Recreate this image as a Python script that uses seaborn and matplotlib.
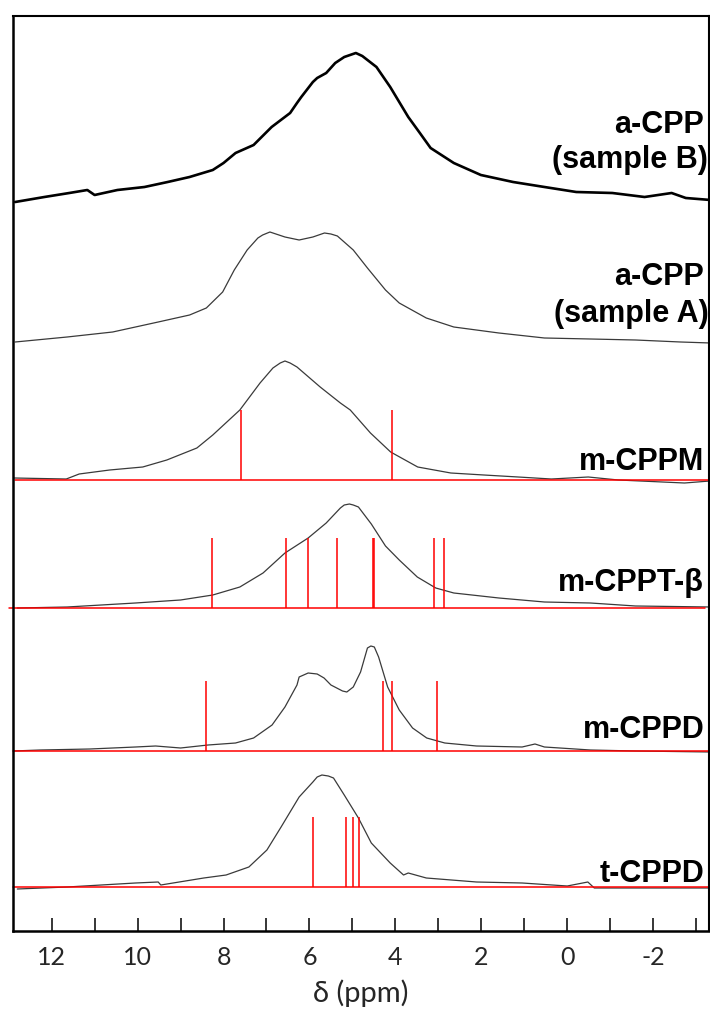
import numpy as np
import pandas as pd
import matplotlib
matplotlib.use("Agg")
import matplotlib.pyplot as plt
from matplotlib.ticker import MultipleLocator
import seaborn as sns

# ------------------------------------------------------------------
# spectra: chemical shift (ppm) and intensity (a.u.)
# ------------------------------------------------------------------
ppm_b = [12.85, 12.17, 11.59, 11.17, 11.00, 10.47, 9.84, 9.30, 8.79, 8.25, 8.00, 7.72,
         7.30, 6.88, 6.45, 6.29, 6.19, 5.92, 5.82, 5.61, 5.40, 5.19, 4.92, 4.77, 4.44,
         4.12, 3.91, 3.70, 3.43, 3.18, 2.64, 2.01,
         1.26, 0.53, -0.21, -1.05, -1.80, -2.43, -2.76, -3.34]
int_b = [-1, 4, 8, 11, 6, 11, 14, 19, 24, 31, 38, 48,
         56, 74, 88, 98, 104, 119, 123, 128, 138, 144, 148, 145, 134,
         114, 99, 84, 68, 53, 38, 26,
         19, 14, 9, 8, 4, 8, 3, 1]

ppm_a = [12.85, 11.64, 10.58, 9.52, 8.79, 8.40, 8.02, 7.75, 7.45, 7.20, 7.09, 6.92, 6.78,
         6.57, 6.24, 5.92, 5.65, 5.50, 5.35, 4.98, 4.65, 4.23, 3.91, 3.28, 2.64, 1.59, 0.53,
         -0.54, -1.59, -2.64, -3.34]
int_a = [0, 5, 10, 20, 27, 34, 50, 72, 92, 104, 107, 110, 108,
         105, 102, 105, 109, 108, 106, 92, 74, 52, 39, 24, 15, 9, 4,
         3, 2, 0, -1]

ppm_m = [12.87, 11.66, 11.36, 10.65, 9.88, 9.32, 8.62, 8.25, 7.62, 7.15, 6.85, 6.68, 6.57,
         6.45, 6.29, 5.75, 5.28, 5.05, 4.58, 4.11, 3.48, 2.71, 1.94, 1.14, 0.37, -0.49,
         -1.19, -2.73, -3.32]
int_m = [2, 1, 6, 10, 13, 20, 32, 45, 70, 97, 112, 117, 119,
         117, 113, 93, 77, 70, 47, 28, 13, 7, 5, 3, 1, 3,
         0, -3, -1]

ppm_t = [12.80, 11.64, 10.05, 9.00, 8.25, 7.62, 7.08, 6.57, 6.03, 5.61, 5.28, 5.19, 5.07,
         4.98, 4.86, 4.56, 4.23, 3.91, 3.49, 3.06, 2.64, 1.59, 0.53, -0.54, -1.59, -3.34]
int_t = [0, 1, 5, 8, 13, 21, 35, 55, 70, 85, 100, 103, 104,
         103, 101, 84, 62, 48, 31, 20, 15, 10, 6, 5, 2, 1]

ppm_d = [12.90, 12.27, 11.11, 10.05, 9.58, 9.00, 8.36, 7.72, 7.30, 6.87, 6.57, 6.29,
         6.24, 6.03, 5.82, 5.66, 5.50, 5.23, 5.13, 4.98, 4.81, 4.65, 4.57, 4.49, 4.39,
         4.18, 3.91, 3.60, 3.27, 2.85, 2.11, 1.05, 0.75, 0.53, -0.54, -1.59, -3.34]
int_d = [0, 1, 2, 4, 5, 3, 6, 8, 13, 26, 44, 66,
         74, 78, 77, 73, 66, 60, 59, 64, 79, 103, 105, 104, 94,
         64, 41, 23, 13, 8, 5, 4, 7, 4, 1, 0, -1]

ppm_tt = [12.80, 11.64, 10.05, 9.52, 9.46, 8.46, 7.94, 7.41, 6.99, 6.66, 6.24, 5.92,
          5.82, 5.71, 5.56, 5.44, 5.19, 4.86, 4.56, 4.12, 3.81, 3.70, 3.28, 2.11, 1.05,
          0.00, -0.48, -0.63, -2.13, -3.34]
int_tt = [-2, 0, 4, 5, 2, 9, 12, 20, 37, 60, 90, 105,
          110, 112, 111, 109, 92, 69, 44, 24, 12, 14, 9, 5, 4,
          1, 5, -1, -1, -1]

# calculated shifts (red sticks)
sticks_m = [7.59, 4.09]
sticks_t = [8.27, 6.54, 6.03, 5.37, 4.53, 4.49, 3.11, 2.87]
sticks_d = [8.40, 4.29, 4.07, 3.04]
sticks_tt = [5.91, 5.16, 4.99, 4.84]
stick_height = 70

labels = ["a-CPP\n(sample B)", "a-CPP\n(sample A)", "m-CPPM", "m-CPPT-β", "m-CPPD", "t-CPPD"]

# ------------------------------------------------------------------
# layout: vertical offset for every trace
# ------------------------------------------------------------------
spectra = [
    (ppm_b, int_b, None, 730, "black", 1.9),
    (ppm_a, int_a, None, 589, "#3a3a3a", 0.9),
    (ppm_m, int_m, sticks_m, 451, "#3a3a3a", 0.9),
    (ppm_t, int_t, sticks_t, 323, "#3a3a3a", 0.9),
    (ppm_d, int_d, sticks_d, 180, "#3a3a3a", 0.9),
    (ppm_tt, int_tt, sticks_tt, 44, "#3a3a3a", 0.9),
]
# label baselines (data units) for each line of text
label_y = [[798, 763], [646, 609], [461], [340], [193], [49]]
baseline_span = [None, None, (0.003, 1.0), (-0.006, 0.994), (0.0, 1.0), (0.0, 1.0)]

sns.set_style("white")
plt.rcParams['font.family'] = ['Liberation Sans', 'DejaVu Sans']
plt.rcParams['axes.unicode_minus'] = False

fig = plt.figure(figsize=(7.1, 10.1), dpi=100)
ax = fig.add_axes([13 / 710, 1 - 931 / 1010, 696 / 710, 915 / 1010])

for (x, y, sticks, off, col, lw), lab, ly, span in zip(spectra, labels, label_y, baseline_span):
    df = pd.DataFrame({"ppm": x, "y": np.array(y) + off})
    sns.lineplot(data=df, x="ppm", y="y", ax=ax, color=col, lw=lw, estimator=None)
    if span is not None:
        ax.axhline(off, xmin=span[0], xmax=span[1], color="red", lw=1.1, clip_on=False)
    if sticks is not None:
        ax.vlines(sticks, off, off + stick_height, color="red", lw=1.1)
    for i, txt in enumerate(lab.split("\n")):
        xpos = 0.993 if i == 0 else 0.999
        ax.text(xpos, ly[i], txt, transform=ax.get_yaxis_transform(),
                ha="right", va="baseline", fontsize=22, fontweight="bold",
                color="black")

ax.set_xlim(12.9, -3.3)
ax.set_ylim(0, 915)
ax.set_yticks([])
ax.set_ylabel("")
ax.xaxis.set_major_locator(MultipleLocator(2))
ax.xaxis.set_minor_locator(MultipleLocator(1))
ax.tick_params(axis="x", which="both", direction="in", length=9.5, width=1.1,
               color="black", bottom=True, top=False)
ax.tick_params(axis="x", which="major", pad=11, labelsize=18)
for lab in ax.get_xticklabels():
    lab.set_fontfamily("Lato")
ax.set_xlabel("δ (ppm)", fontsize=21, fontfamily="Lato", labelpad=7)

for side in ["left", "bottom"]:
    ax.spines[side].set_linewidth(1.8)
for side in ["top", "right"]:
    ax.spines[side].set_linewidth(1.5)
for s in ax.spines.values():
    s.set_color("black")

plt.savefig("out.png", dpi=100)
plt.close()
